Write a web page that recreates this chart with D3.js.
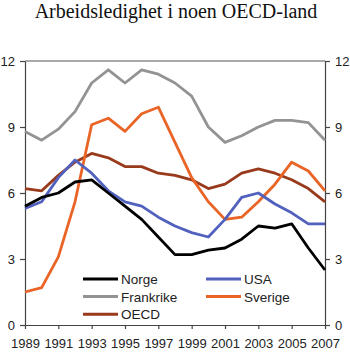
<!DOCTYPE html>
<html>
<head>
<meta charset="utf-8">
<script src="https://cdn.jsdelivr.net/npm/d3@7"></script>
<style>
  body { margin: 0; background: #fff; }
  .axis text { font-family: "Liberation Sans", Arial, sans-serif; font-size: 13px; fill: #222; }
  .axis path, .axis line { stroke: #444; stroke-width: 1.2; }
  .legend text { font-family: "Liberation Sans", Arial, sans-serif; font-size: 13.5px; fill: #222; }
</style>
</head>
<body>
<div id="chart"></div>
<script>
      var years = [1989, 1990, 1991, 1992, 1993, 1994, 1995, 1996, 1997, 1998,
                   1999, 2000, 2001, 2002, 2003, 2004, 2005, 2006, 2007];
      var yearTicks = [1989, 1991, 1993, 1995, 1997, 1999, 2001, 2003, 2005, 2007];
      var valueTicks = [0, 3, 6, 9, 12];

      var norge     = [5.4, 5.8, 6.0, 6.5, 6.6, 6.0, 5.4, 4.8, 4.0, 3.2, 3.2, 3.4, 3.5, 3.9, 4.5, 4.4, 4.6, 3.5, 2.5];
      var usa       = [5.3, 5.6, 6.7, 7.5, 6.9, 6.1, 5.6, 5.4, 4.9, 4.5, 4.2, 4.0, 4.8, 5.8, 6.0, 5.5, 5.1, 4.6, 4.6];
      var frankrike = [8.8, 8.4, 8.9, 9.7, 11.0, 11.6, 11.0, 11.6, 11.4, 11.0, 10.4, 9.0, 8.3, 8.6, 9.0, 9.3, 9.3, 9.2, 8.4];
      var sverige   = [1.5, 1.7, 3.1, 5.6, 9.1, 9.4, 8.8, 9.6, 9.9, 8.3, 6.7, 5.6, 4.8, 4.9, 5.6, 6.4, 7.4, 7.0, 6.1];
      var oecd      = [6.2, 6.1, 6.8, 7.4, 7.8, 7.6, 7.2, 7.2, 6.9, 6.8, 6.6, 6.2, 6.4, 6.9, 7.1, 6.9, 6.6, 6.2, 5.6];

      var series = [
        {name: "Norge", values: norge, color: "#000000"},
        {name: "USA", values: usa, color: "#5161bd"},
        {name: "Frankrike", values: frankrike, color: "#939393"},
        {name: "Sverige", values: sverige, color: "#ea6425"},
        {name: "OECD", values: oecd, color: "#983a1b"}
      ];

      var margin = {top: 61, right: 25, bottom: 29, left: 25};
      var width = 350 - margin.left - margin.right,
          height = 354 - margin.top - margin.bottom;

      var svg = d3.select("#chart").append("svg")
          .attr("width", 350)
          .attr("height", 354);

      svg.append("text")
          .attr("x", 176)
          .attr("y", 18)
          .attr("text-anchor", "middle")
          .style("font-family", "'Liberation Serif', 'Times New Roman', serif")
          .style("font-size", "20px")
          .style("fill", "#111")
          .text("Arbeidsledighet i noen OECD-land");

      var canvas = svg.append("g")
          .attr("transform", "translate(" + margin.left + "," + margin.top + ")");

      var xScale = d3.scaleLinear().domain([1989, 2007]).range([0, width]);
      var yScale = d3.scaleLinear().domain([0, 12]).range([height, 0]);

      // top border
      canvas.append("line")
          .attr("x1", 0).attr("x2", width)
          .attr("y1", 0).attr("y2", 0)
          .attr("stroke", "#555").attr("stroke-width", 1.2);

      // axes
      canvas.append("g")
          .attr("class", "axis")
          .call(d3.axisLeft(yScale).tickValues(valueTicks).tickSize(5).tickPadding(5).tickSizeOuter(0));

      canvas.append("g")
          .attr("class", "axis")
          .attr("transform", "translate(" + width + ",0)")
          .call(d3.axisRight(yScale).tickValues(valueTicks).tickSize(5).tickPadding(5).tickSizeOuter(0));

      canvas.append("g")
          .attr("class", "axis")
          .attr("transform", "translate(0," + height + ")")
          .call(d3.axisBottom(xScale).tickValues(yearTicks).tickFormat(d3.format("d"))
                .tickSize(4).tickPadding(10).tickSizeOuter(0));

      // lines
      var line = d3.line()
          .x(function(d, i) { return xScale(years[i]); })
          .y(function(d) { return yScale(d); });

      var drawOrder = ["Frankrike", "OECD", "Sverige", "USA", "Norge"];
      drawOrder.forEach(function(name) {
        var s = series.find(function(d) { return d.name == name; });
        canvas.append("path")
            .datum(s.values)
            .attr("fill", "none")
            .attr("stroke", s.color)
            .attr("stroke-width", 2.8)
            .attr("stroke-linejoin", "round")
            .attr("d", line);
      });

      // legend, two columns
      var legend = svg.append("g").attr("class", "legend");
      series.forEach(function(s, i) {
        var col = i % 2, row = Math.floor(i / 2);
        var lx = col == 0 ? 83 : 206;
        var ly = 279 + row * 17.6;
        legend.append("line")
            .attr("x1", lx).attr("x2", lx + 35)
            .attr("y1", ly).attr("y2", ly)
            .attr("stroke", s.color)
            .attr("stroke-width", 3);
        legend.append("text")
            .attr("x", lx + 38)
            .attr("y", ly + 5)
            .text(s.name);
      });
</script>
</body>
</html>
